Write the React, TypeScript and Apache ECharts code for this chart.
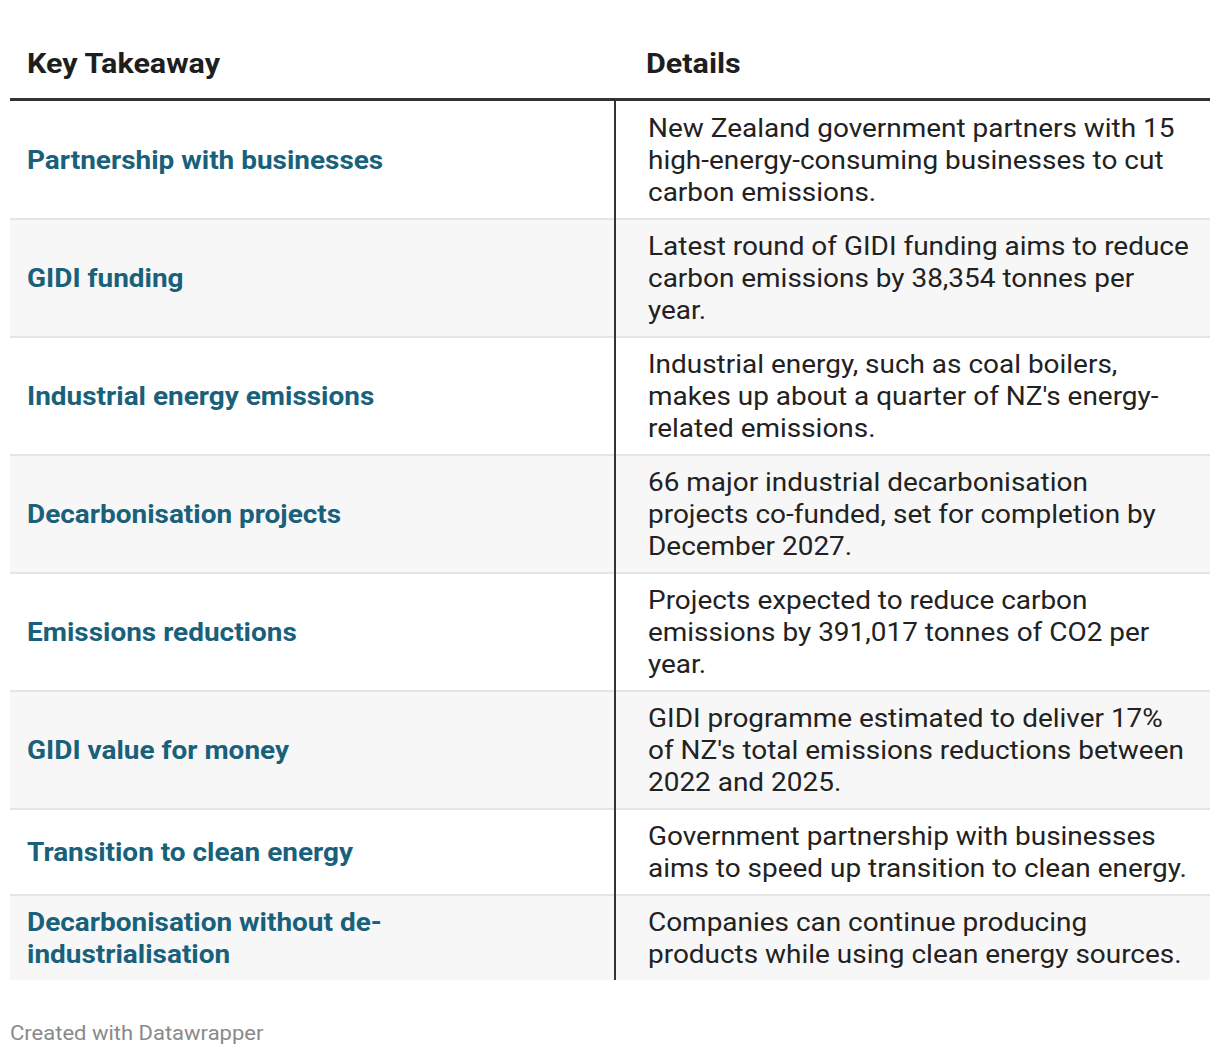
import React, { useEffect, useRef } from "react";
import * as echarts from "echarts";

const headers = ["Key Takeaway", "Details"];

const takeaways = [
  "Partnership with businesses",
  "GIDI funding",
  "Industrial energy emissions",
  "Decarbonisation projects",
  "Emissions reductions",
  "GIDI value for money",
  "Transition to clean energy",
  "Decarbonisation without de-\nindustrialisation",
];

const details = [
  "New Zealand government partners with 15\nhigh-energy-consuming businesses to cut\ncarbon emissions.",
  "Latest round of GIDI funding aims to reduce\ncarbon emissions by 38,354 tonnes per\nyear.",
  "Industrial energy, such as coal boilers,\nmakes up about a quarter of NZ's energy-\nrelated emissions.",
  "66 major industrial decarbonisation\nprojects co-funded, set for completion by\nDecember 2027.",
  "Projects expected to reduce carbon\nemissions by 391,017 tonnes of CO2 per\nyear.",
  "GIDI programme estimated to deliver 17%\nof NZ's total emissions reductions between\n2022 and 2025.",
  "Government partnership with businesses\naims to speed up transition to clean energy.",
  "Companies can continue producing\nproducts while using clean energy sources.",
];

const footer = "Created with Datawrapper";

export default function App() {
  const ref = useRef<HTMLDivElement>(null);
  useEffect(() => {
    document.body.style.margin = "0";
    const chart = echarts.init(ref.current!, null, { renderer: "svg" });
    const FONT = "Roboto, 'Noto Sans', sans-serif";
    const left = 10;
    const right = 1210;
    const divX = 614;
    const col2X = 648;
    const lineH = 32;
    const pad = 11;
    const tableTop = 100;
    const els: any[] = [];

    const txt = (text: string, x: number, y: number, font: string, fill: string, sx: number, extra: any = {}) => ({
      type: "text",
      x,
      y,
      scaleX: sx,
      style: { text, x: 0, y: 0, fill, font, textVerticalAlign: "middle", ...extra },
    });

    els.push(txt(headers[0], 27, 64, `bold 27px ${FONT}`, "#1e1e1e", 1.13));
    els.push(txt(headers[1], 646, 64, `bold 27px ${FONT}`, "#1e1e1e", 1.13));

    let y = tableTop;
    takeaways.forEach((t, i) => {
      const n = Math.max(t.split("\n").length, details[i].split("\n").length);
      const h = n * lineH + pad * 2;
      if (i % 2 === 1) {
        els.push({ type: "rect", shape: { x: left, y, width: right - left, height: h }, style: { fill: "#f7f7f7" } });
      }
      if (i > 0) {
        els.push({ type: "rect", shape: { x: left, y, width: right - left, height: 2 }, style: { fill: "#e5e5e5" } });
      }
      const cy = y + h / 2 + 1;
      els.push(txt(t, 27, cy, `bold 26px ${FONT}`, "#19617b", 1.075, { lineHeight: lineH }));
      els.push(txt(details[i], col2X, cy, `26px ${FONT}`, "#222222", 1.075, { lineHeight: lineH }));
      y += h;
    });
    const tableBottom = y;

    els.push({ type: "rect", shape: { x: left, y: tableTop - 2, width: right - left, height: 3 }, style: { fill: "#333333" } });
    els.push({ type: "rect", shape: { x: divX, y: tableTop + 1, width: 2, height: tableBottom - tableTop - 1 }, style: { fill: "#333333" } });

    els.push(txt(footer, 10, 1033, `20px ${FONT}`, "#8a8a8a", 1.1));

    chart.setOption({ animation: false, backgroundColor: "#ffffff", graphic: { elements: els } });
    return () => chart.dispose();
  }, []);
  return <div ref={ref} style={{ width: 1220, height: 1056 }} />;
}
